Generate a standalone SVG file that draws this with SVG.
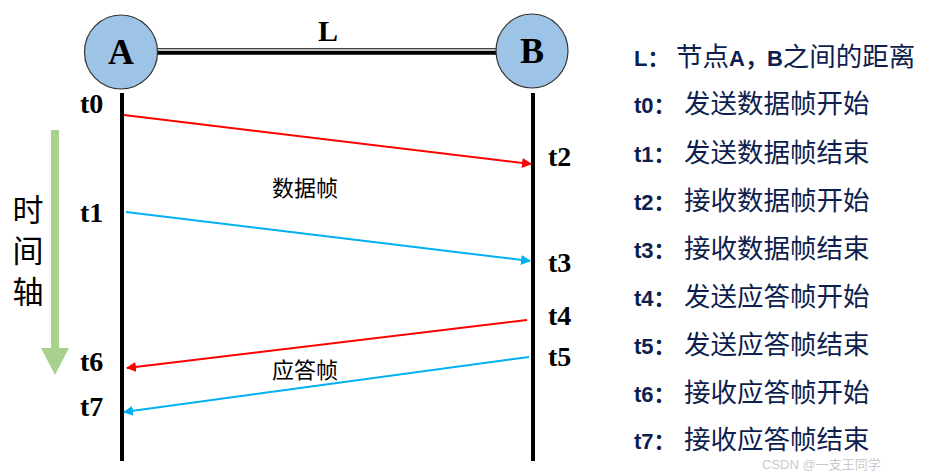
<svg xmlns="http://www.w3.org/2000/svg" width="932" height="471" viewBox="0 0 932 471">
<defs>
<style>
.node{fill:#9DC3E6;stroke:#333;stroke-width:1.2}
.nl{font-family:"Liberation Serif",serif;font-weight:bold;font-size:36px;fill:#000;text-anchor:middle}
.tl{font-family:"Liberation Serif",serif;font-weight:bold;font-size:28px;fill:#000}
.cn{font-family:"Liberation Serif","Noto Sans CJK SC",serif;font-size:22px;fill:#000;text-anchor:middle}
.ax{font-family:"Liberation Serif","Noto Sans CJK SC",serif;font-size:31px;fill:#000;text-anchor:middle}
.leg{font-family:"Noto Sans CJK SC",sans-serif;font-size:26.5px;fill:#0E1E4E}
.lb{font-family:"Liberation Sans","Noto Sans CJK SC",sans-serif;font-weight:bold;font-size:22px;fill:#0E1E4E}
.life{stroke:#000;stroke-width:4}
.red{stroke:#FF0000;stroke-width:2;fill:none}
.blue{stroke:#00B0F0;stroke-width:2;fill:none}
</style>
<marker id="ar" viewBox="0 0 10 10" refX="9" refY="5" markerWidth="5" markerHeight="5" orient="auto" markerUnits="strokeWidth"><path d="M0,0 L10,5 L0,10 z" fill="#FF0000"/></marker>
<marker id="ab" viewBox="0 0 10 10" refX="9" refY="5" markerWidth="5" markerHeight="5" orient="auto" markerUnits="strokeWidth"><path d="M0,0 L10,5 L0,10 z" fill="#00B0F0"/></marker>
</defs>
<rect width="932" height="471" fill="#fff"/>

<g id="link">
<line x1="157" y1="51.5" x2="497" y2="51.5" stroke="#000" stroke-width="6.5"/>
<line x1="157" y1="50" x2="497" y2="50" stroke="#fff" stroke-width="1.3"/>
<text x="328" y="41" class="nl" style="font-size:30px">L</text>
</g>

<g id="nodeA">
<ellipse cx="121" cy="52" rx="36.5" ry="37" class="node"/>
<text x="121" y="64" class="nl">A</text>
</g>
<g id="nodeB">
<ellipse cx="532" cy="51" rx="36" ry="37" class="node"/>
<text x="532" y="63" class="nl">B</text>
</g>

<g id="lifelines">
<line x1="122" y1="93" x2="122" y2="461" class="life"/>
<line x1="533" y1="93" x2="533" y2="461" class="life"/>
</g>

<g id="timeaxis">
<rect x="51" y="130" width="8" height="218" fill="#A9D18E"/>
<polygon points="41,348 69,348 55,375" fill="#A9D18E"/>
<text x="28" y="221" class="ax">时</text>
<text x="28" y="262" class="ax">间</text>
<text x="28" y="303" class="ax">轴</text>
</g>

<g id="connectors">
<line x1="124" y1="115" x2="531" y2="164" class="red" marker-end="url(#ar)"/>
<line x1="126" y1="212" x2="530" y2="261" class="blue" marker-end="url(#ab)"/>
<line x1="527" y1="320" x2="127" y2="368" class="red" marker-end="url(#ar)"/>
<line x1="529" y1="357" x2="124" y2="412" class="blue" marker-end="url(#ab)"/>
</g>

<g id="labels">
<text x="80" y="113" class="tl">t0</text>
<text x="80" y="222" class="tl">t1</text>
<text x="80" y="371" class="tl">t6</text>
<text x="80" y="416" class="tl">t7</text>
<text x="548" y="166" class="tl">t2</text>
<text x="548" y="272" class="tl">t3</text>
<text x="548" y="325" class="tl">t4</text>
<text x="548" y="366" class="tl">t5</text>
<text x="305" y="196" class="cn">数据帧</text>
<text x="305" y="378" class="cn">应答帧</text>
</g>

<g id="legend">
<text x="634" y="66" class="leg"><tspan class="lb">L：</tspan><tspan x="676">节点</tspan><tspan class="lb">A，B</tspan>之间的距离</text>
<text x="634" y="113" class="leg"><tspan class="lb">t0：</tspan><tspan x="684">发送数据帧开始</tspan></text>
<text x="634" y="162" class="leg"><tspan class="lb">t1：</tspan><tspan x="684">发送数据帧结束</tspan></text>
<text x="634" y="210" class="leg"><tspan class="lb">t2：</tspan><tspan x="684">接收数据帧开始</tspan></text>
<text x="634" y="258" class="leg"><tspan class="lb">t3：</tspan><tspan x="684">接收数据帧结束</tspan></text>
<text x="634" y="306" class="leg"><tspan class="lb">t4：</tspan><tspan x="684">发送应答帧开始</tspan></text>
<text x="634" y="354" class="leg"><tspan class="lb">t5：</tspan><tspan x="684">发送应答帧结束</tspan></text>
<text x="634" y="402" class="leg"><tspan class="lb">t6：</tspan><tspan x="684">接收应答帧开始</tspan></text>
<text x="634" y="449" class="leg"><tspan class="lb">t7：</tspan><tspan x="684">接收应答帧结束</tspan></text>
</g>

<text x="762" y="469" font-family="'Liberation Sans','Noto Sans CJK SC',sans-serif" font-size="13" fill="#bbb" fill-opacity="0.8">CSDN @一支王同学</text>
</svg>
